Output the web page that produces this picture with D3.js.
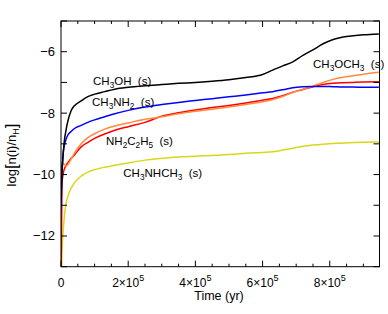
<!DOCTYPE html>
<html>
<head>
<meta charset="utf-8">
<script src="https://cdn.jsdelivr.net/npm/d3@7"></script>
<style>
  body { margin: 0; background: #fff; }
  svg { display: block; font-family: 'Liberation Sans', Arial, sans-serif; }
  .frame { fill: none; stroke: #000; stroke-width: 1; }
  .tick { stroke: #000; stroke-width: 1; }
  .curve { fill: none; stroke-width: 1.5; }
</style>
</head>
<body>
<svg id="chart"></svg>
<script>
const WIDTH = 388;
const HEIGHT = 314;
const margin = {top: 21, right: 8.5, bottom: 47.3, left: 61};

// time in units of 1e5 yr
const timeGrid = [0, 0.03, 0.06, 0.1, 0.15, 0.2, 0.3, 0.4, 0.6, 0.8, 1.0, 1.3, 1.6, 2.0, 2.5, 3.0,
  3.5, 4.0, 4.5, 5.0, 5.5, 6.0, 6.3, 6.6, 6.9, 7.2, 7.5, 7.8, 8.1, 8.4, 8.7, 9.0, 9.46];

const ch3oh = [-10.8, -9.9, -9.42, -8.9, -8.55, -8.28, -7.92, -7.76, -7.6, -7.46, -7.38, -7.3, -7.22,
  -7.16, -7.11, -7.07, -7.03, -7.0, -6.96, -6.91, -6.84, -6.74, -6.6, -6.46, -6.33, -6.12, -5.94,
  -5.74, -5.6, -5.52, -5.48, -5.45, -5.42];
const ch3nh2 = [-11.05, -9.96, -9.35, -9.05, -8.85, -8.72, -8.6, -8.5, -8.4, -8.3, -8.22, -8.12, -8.02,
  -7.91, -7.8, -7.72, -7.65, -7.59, -7.53, -7.47, -7.41, -7.34, -7.3, -7.24, -7.17, -7.14, -7.13,
  -7.13, -7.14, -7.15, -7.15, -7.16, -7.16];
const ch3och3 = [-10.23, -9.69, -9.64, -9.67, -9.72, -9.68, -9.5, -9.3, -9.0, -8.8, -8.67, -8.52, -8.42,
  -8.32, -8.2, -8.12, -8.02, -7.94, -7.87, -7.8, -7.72, -7.63, -7.56, -7.46, -7.32, -7.22, -7.12,
  -7.0, -6.9, -6.83, -6.78, -6.73, -6.67];
const nh2c2h5 = [-13.5, -10.3, -10.0, -9.82, -9.7, -9.62, -9.48, -9.36, -9.1, -8.95, -8.82, -8.68, -8.56,
  -8.44, -8.3, -8.1, -7.99, -7.9, -7.82, -7.75, -7.67, -7.58, -7.52, -7.43, -7.32, -7.23, -7.14,
  -7.07, -7.03, -7.01, -7.0, -6.99, -6.98];
const ch3nhch3 = [-14, -12.5, -11.9, -11.37, -10.95, -10.72, -10.45, -10.27, -10.05, -9.92, -9.84, -9.76,
  -9.7, -9.62, -9.53, -9.47, -9.43, -9.4, -9.38, -9.35, -9.31, -9.28, -9.26, -9.2, -9.14, -9.08,
  -9.04, -9.01, -8.99, -8.97, -8.96, -8.95, -8.94];

const xTicks = [0, 2, 4, 6, 8];
const yTicks = [-12, -10, -8, -6];

// drawn order: yellow, red, orange, blue, black on top
const series = [
  {name: 'CH_3NHCH_3  (s)', values: ch3nhch3, color: '#d8d818', label: [123.3, 177]},
  {name: 'NH_2C_2H_5  (s)', values: nh2c2h5, color: '#ff0000', label: [106, 145]},
  {name: 'CH_3OCH_3  (s)', values: ch3och3, color: '#ff8a3c', label: [313, 68]},
  {name: 'CH_3NH_2  (s)', values: ch3nh2, color: '#0000ff', label: [92, 106]},
  {name: 'CH_3OH  (s)', values: ch3oh, color: '#000000', label: [93, 85]}
];

const svg = d3.select('#chart')
  .attr('width', WIDTH)
  .attr('height', HEIGHT)
  .attr('viewBox', `0 0 ${WIDTH} ${HEIGHT}`);

const x = d3.scaleLinear().domain([0, 9.48]).range([margin.left, WIDTH - margin.right]);
const y = d3.scaleLinear().domain([-13, -5]).range([HEIGHT - margin.bottom, margin.top]);

svg.append('clipPath').attr('id', 'plot-clip')
  .append('rect')
  .attr('x', x(0)).attr('y', y(-5))
  .attr('width', x(9.48) - x(0)).attr('height', y(-13) - y(-5));

// Adds text with _x subscripts to a text element.
function addChemText(sel, str, size) {
  const parts = str.split(/(_\d)/).filter(p => p);
  let shift = 0;
  for (const p of parts) {
    if (p[0] === '_') {
      sel.append('tspan').attr('dy', 3 - shift).attr('font-size', size * 0.72).text(p[1]);
      shift = 3;
    } else {
      sel.append('tspan').attr('dy', -shift).text(p);
      shift = 0;
    }
  }
}

const line = d3.line()
  .x((d, i) => x(timeGrid[i]))
  .y(d => y(d))
  .curve(d3.curveMonotoneX);

const plot = svg.append('g').attr('clip-path', 'url(#plot-clip)');
for (const s of series) {
  plot.append('path')
    .attr('class', 'curve')
    .attr('stroke', s.color)
    .attr('d', line(s.values));
}

for (const s of series) {
  const t = svg.append('text')
    .attr('x', s.label[0])
    .attr('y', s.label[1])
    .attr('font-size', 11.5)
    .attr('fill', '#000')
    .style('white-space', 'pre');
  addChemText(t, s.name, 11.5);
}

// frame
svg.append('rect').attr('class', 'frame')
  .attr('x', x(0)).attr('y', y(-5))
  .attr('width', x(9.48) - x(0)).attr('height', y(-13) - y(-5));

// ticks, inward on all four sides
const ticks = svg.append('g');
for (let v = 0; v <= 9.48; v += 0.5) {
  const major = Math.abs(v % 2) < 1e-9;
  const len = major ? 6 : 3;
  ticks.append('line').attr('class', 'tick')
    .attr('x1', x(v)).attr('x2', x(v))
    .attr('y1', y(-13)).attr('y2', y(-13) - len);
  ticks.append('line').attr('class', 'tick')
    .attr('x1', x(v)).attr('x2', x(v))
    .attr('y1', y(-5)).attr('y2', y(-5) + len);
}
for (let v = -13; v <= -5; v += 1) {
  const len = 6;
  ticks.append('line').attr('class', 'tick')
    .attr('x1', x(0)).attr('x2', x(0) + len)
    .attr('y1', y(v)).attr('y2', y(v));
  ticks.append('line').attr('class', 'tick')
    .attr('x1', x(9.48)).attr('x2', x(9.48) - len)
    .attr('y1', y(v)).attr('y2', y(v));
}

// x tick labels
for (const v of xTicks) {
  const t = svg.append('text')
    .attr('x', x(v))
    .attr('y', 287)
    .attr('text-anchor', 'middle')
    .attr('font-size', 12);
  if (v === 0) {
    t.text('0');
  } else {
    t.append('tspan').text(`${v}\u00d710`);
    t.append('tspan').attr('dy', -6).attr('font-size', 9).text('5');
  }
}

// y tick labels
for (const v of yTicks) {
  svg.append('text')
    .attr('x', 55)
    .attr('y', y(v) + 4.5)
    .attr('text-anchor', 'end')
    .attr('font-size', 13)
    .text('\u2212' + Math.abs(v));
}

// axis titles
svg.append('text')
  .attr('x', 219)
  .attr('y', 300)
  .attr('text-anchor', 'middle')
  .attr('font-size', 12.5)
  .text('Time (yr)');

const yl = svg.append('text')
  .attr('transform', `translate(16,${155}) rotate(-90)`)
  .attr('text-anchor', 'middle')
  .attr('font-size', 13);
yl.append('tspan').text('log');
yl.append('tspan').attr('font-size', 17).attr('dy', 1).text('[');
yl.append('tspan').attr('dy', -1).text('n(i)/n');
yl.append('tspan').attr('font-size', 9).attr('dy', 3).text('H');
yl.append('tspan').attr('font-size', 17).attr('dy', -2).text(']');
</script>
</body>
</html>
